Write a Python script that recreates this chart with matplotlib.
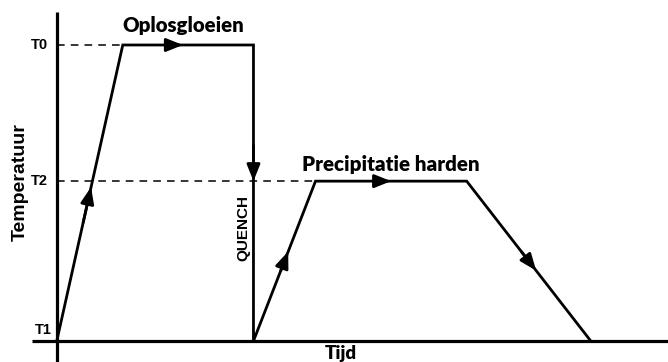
import numpy as np
import matplotlib.pyplot as plt

# heat treatment profile: time (arbitrary units), temperature (T1 = 0, T0 = 1)
time = [0, 1.0, 2.98, 2.98, 3.92, 6.21, 8.09]
temp = [0, 1.0, 1.0, 0.0, 0.54, 0.54, 0]

level_names = ['T1', 'T2', 'T0']
level_values = [0, 0.54, 1.0]

# (segment index, fraction along the segment) for the direction arrows
arrows = [(0, 0.52), (1, 0.46), (2, 0.46), (3, 0.56), (4, 0.5), (5, 0.56)]

calibri = 'Lato'
arial = 'Liberation Sans'

fig = plt.figure(figsize=(6.68, 3.62), dpi=100)
ax = fig.add_axes([0, 0, 1, 1])
ax.set_xlim(-0.86, 9.26)
ax.set_ylim(-0.071, 1.152)
ax.axis('off')

# axes drawn by hand so they can cross
ax.plot([0, 0], [-0.071, 1.111], color='black', lw=2.3, solid_capstyle='butt')
ax.plot([-0.38, 9.26], [0, 0], color='black', lw=2.3, solid_capstyle='butt')

# dashed guide lines to T0 and T2
ax.plot([0, time[1]], [level_values[2]] * 2, color='black', lw=1.1, ls=(0, (5, 4)))
ax.plot([0, time[4]], [level_values[1]] * 2, color='black', lw=1.1, ls=(0, (5, 4)))

ax.plot(time, temp, color='black', lw=2.0, solid_joinstyle='miter')

for i, f in arrows:
    p0 = np.array([time[i], temp[i]])
    p1 = np.array([time[i + 1], temp[i + 1]])
    tip = p0 + f * (p1 - p0)
    tail = tip - 0.12 * (p1 - p0)
    ax.annotate('', xy=tip, xytext=tail,
                arrowprops=dict(arrowstyle='-|>,head_length=1.0,head_width=0.4',
                                color='black', lw=2.0, shrinkA=0, shrinkB=0))

for name, val in zip(level_names, level_values):
    if name == 'T1':
        ax.text(-0.08, 0.015, name, ha='right', va='bottom', fontsize=10.5,
                fontweight='bold', family=arial)
    else:
        ax.text(-0.13, val, name, ha='right', va='center', fontsize=10.5,
                fontweight='bold', family=arial)

ax.text(1.92, 1.044, 'Oplosgloeien', ha='center', va='baseline', fontsize=14.7,
        fontweight='heavy', family=calibri)
ax.text(5.06, 0.574, 'Precipitatie harden', ha='center', va='baseline', fontsize=14.8,
        fontweight='heavy', family=calibri)
ax.text(2.82, 0.382, 'QUENCH', ha='center', va='center', rotation=90, fontsize=11,
        fontweight='bold', family=arial)
ax.text(-0.55, 0.537, 'Temperatuur', ha='center', va='center', rotation=90, fontsize=14,
        fontweight='bold', family=arial)
ax.text(4.3, -0.0135, 'Tijd', ha='center', va='top', fontsize=13.5,
        fontweight='heavy', family=calibri)

fig.savefig('out.png', dpi=100)
